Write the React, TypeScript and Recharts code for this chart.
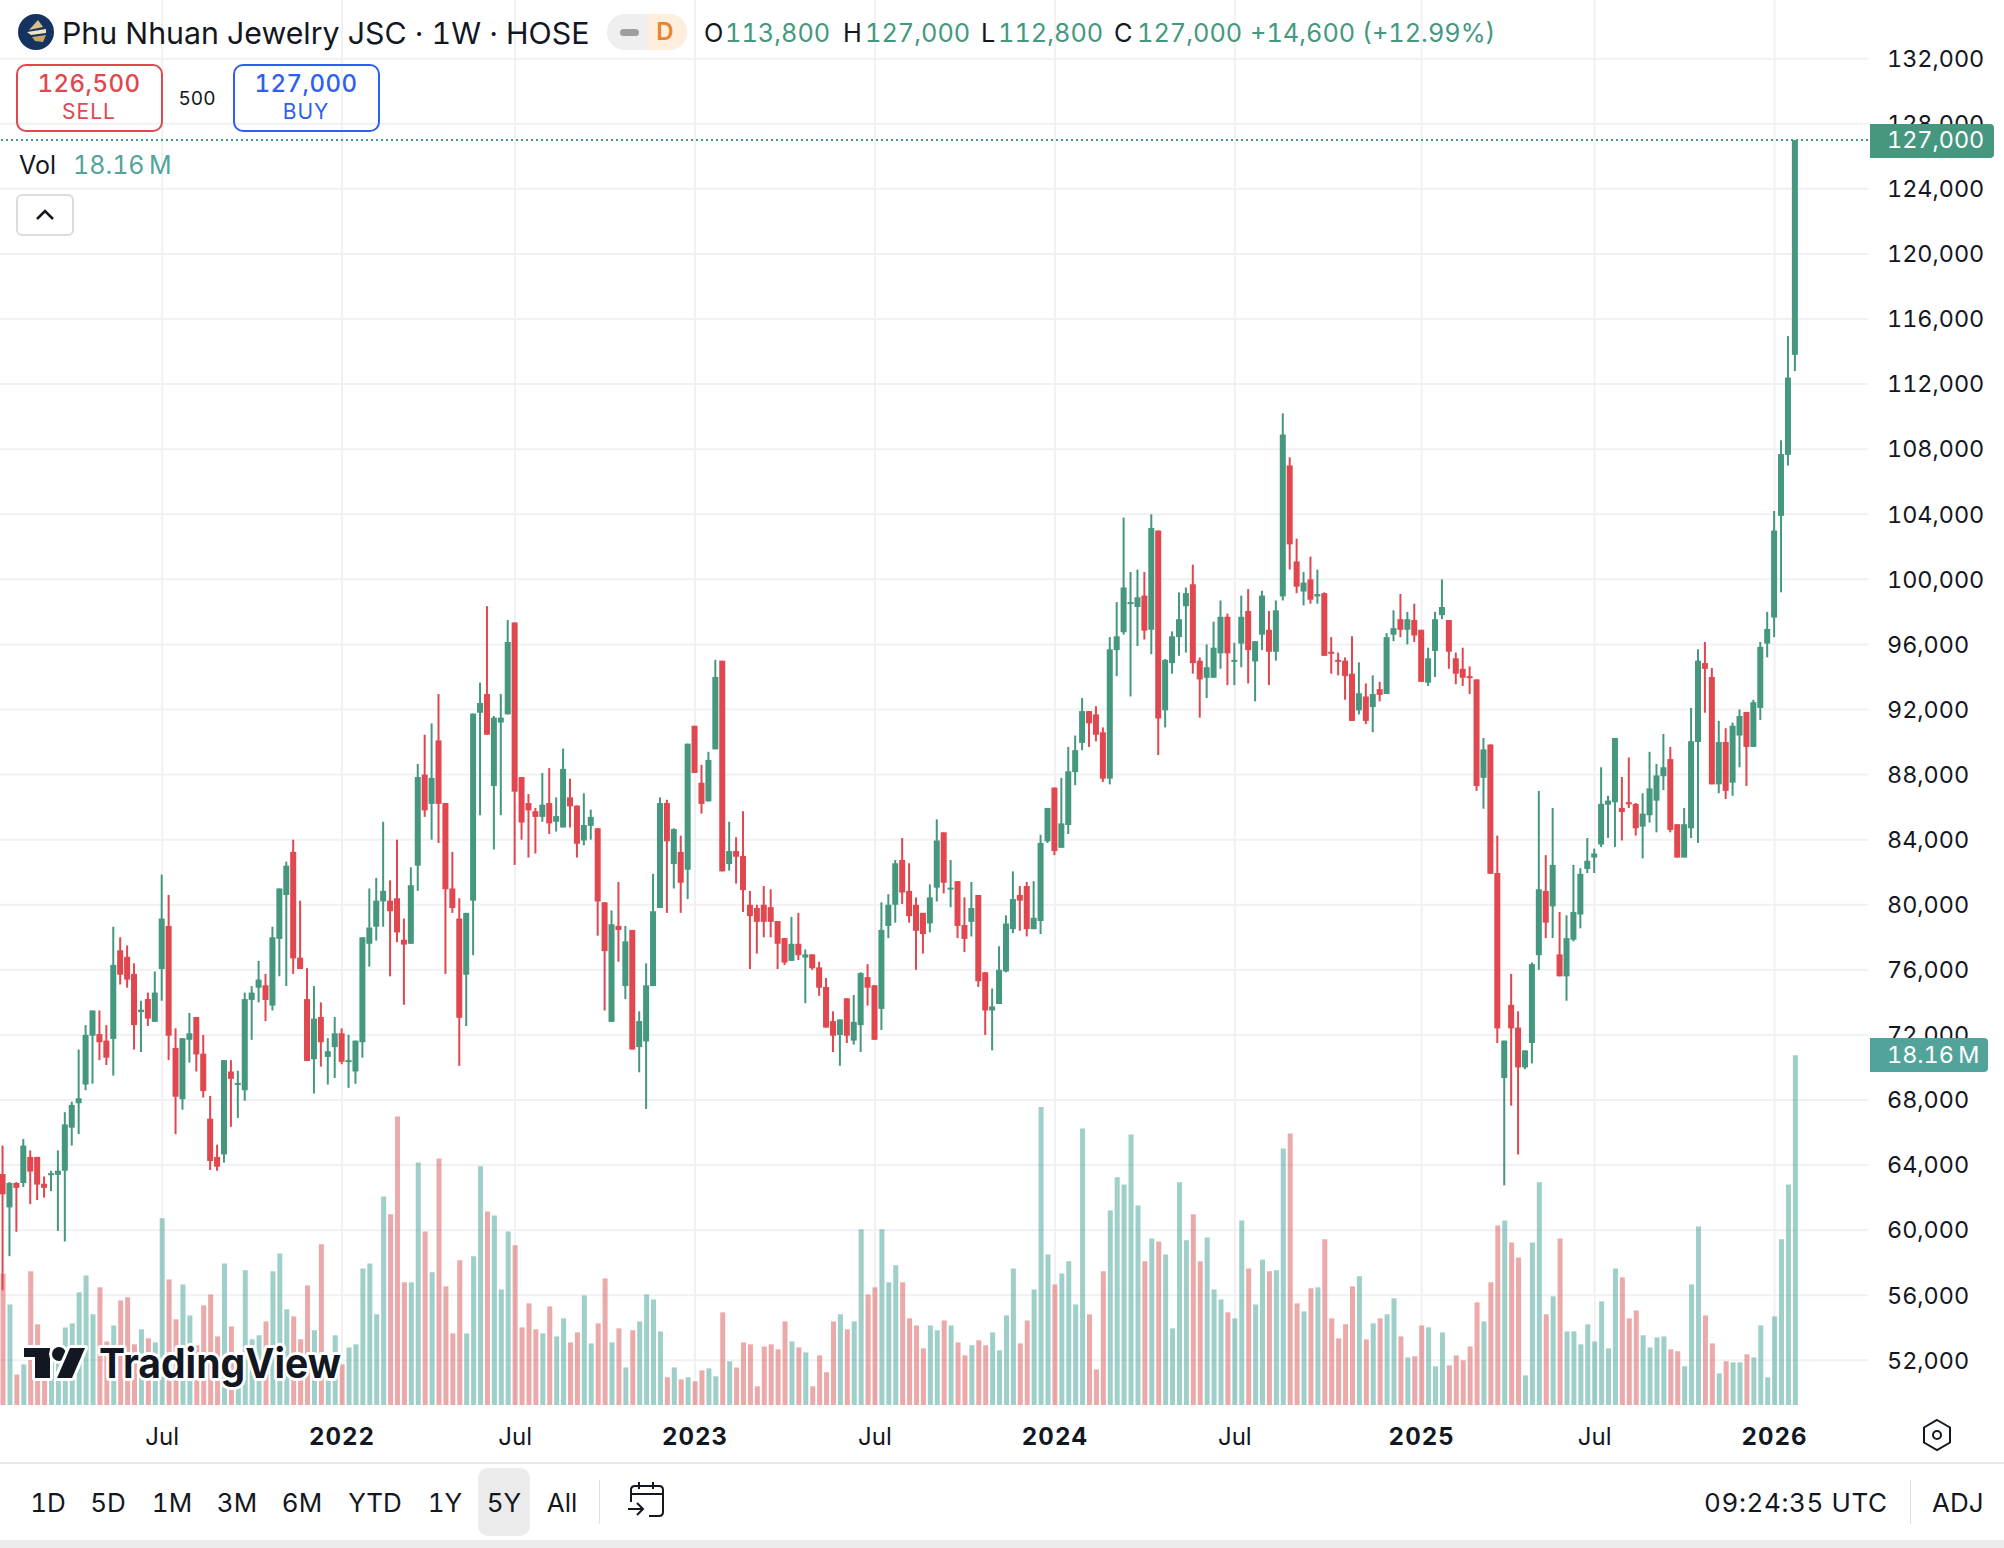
import React from 'react';
import { ComposedChart, Bar, Cell, XAxis, YAxis, CartesianGrid, ReferenceLine } from 'recharts';

const opens = [
  63450, 61400, 62900, 62900, 64500, 64500, 62850, 63400, 63400, 63650,
  66300, 67800, 68950, 71950, 72050, 71650, 71750, 77200, 76800, 75750,
  73400, 74200, 72800, 76050, 78700, 71200, 68050, 71700, 73100, 70850,
  66850, 64500, 64650, 69750, 68950, 68600, 74150, 74900, 75050, 73800,
  77900, 80600, 83250, 76750, 74200, 70500, 73100, 70650, 71250, 72100,
  70350, 69750, 71550, 77600, 78650, 80200, 80250, 80400, 77850, 77600,
  82400, 88000, 86200, 90100, 86250, 81000, 79150, 75700, 80250, 91800,
  92950, 87300, 91200, 91700, 97350, 87850, 86250, 85750, 85400, 86250,
  85100, 84750, 86600, 86100, 83950, 84850, 84700, 80150, 72800, 78700,
  75000, 78450, 71250, 71600, 75000, 79800, 86250, 82500, 83250, 82150,
  91000, 87500, 86350, 89550, 95000, 82500, 83300, 83000, 80000, 79800,
  80000, 79850, 79000, 77950, 76550, 77600, 76750, 76950, 76150, 74950,
  72850, 72000, 74250, 71650, 72600, 75550, 75050, 73600, 78700, 80000,
  82750, 80850, 80000, 79500, 78850, 81050, 84450, 80950, 81450, 78750,
  78950, 80600, 75850, 73500, 73900, 75900, 78500, 80600, 81150, 78500,
  79000, 83900, 87200, 83500, 84900, 88150, 89950, 91900, 91700, 90600,
  87750, 95650, 96750, 98500, 98300, 99000, 96900, 103000, 91950, 94850,
  96450, 98350, 99700, 95000, 93950, 93950, 95450, 97700, 94950, 96050,
  98050, 94950, 96600, 96900, 95550, 98950, 107000, 101100, 99250, 100000,
  98950, 99150, 95550, 95050, 95000, 94200, 91950, 92800, 92150, 93250,
  92950, 96600, 97550, 96900, 97500, 96900, 93650, 95600, 97800, 97500,
  95150, 94500, 94050, 93850, 87800, 89850, 81950, 69350, 73850, 72450,
  70000, 71500, 76900, 80850, 79900, 76950, 75600, 77850, 79400, 82200,
  82900, 83700, 86150, 86300, 85950, 86300, 86200, 84800, 85500, 86400,
  87900, 88950, 84950, 82900, 84700, 90000, 94850, 94000, 87400, 90000,
  87500, 90400, 91850, 89700, 92100, 96050, 97650, 103900, 107650, 113800,
];

const closes = [
  62200, 62900, 62600, 65200, 63600, 62800, 62600, 63500, 63650, 66500,
  67700, 68100, 72000, 73500, 71550, 70600, 76300, 75700, 75400, 72600,
  73550, 73000, 74600, 79150, 71950, 68200, 71800, 72100, 70800, 68550,
  64250, 63900, 70450, 69300, 69050, 74200, 74600, 75400, 74150, 78000,
  81000, 82400, 76700, 76050, 70400, 73000, 71550, 71000, 72100, 70350,
  70450, 71650, 78000, 78600, 80250, 80850, 79600, 78300, 77550, 81200,
  87850, 85800, 87800, 86200, 80950, 79800, 73050, 79500, 91750, 92400,
  90450, 91500, 91500, 96150, 86950, 85050, 85800, 85400, 86150, 85000,
  85450, 88350, 86050, 83750, 84900, 85400, 80200, 77150, 78800, 78450,
  77750, 71100, 72850, 75050, 79600, 86250, 83900, 84650, 81350, 89900,
  88100, 86200, 88900, 94000, 82050, 83300, 82950, 80900, 79300, 78950,
  78950, 78950, 77600, 76450, 77600, 76900, 76950, 76100, 74900, 72450,
  71950, 72950, 71950, 72800, 75800, 74900, 71700, 78450, 80000, 82550,
  80750, 79300, 78400, 78200, 80450, 83950, 81350, 81050, 78700, 77900,
  79800, 75300, 73500, 73750, 76000, 78850, 80350, 80250, 78500, 79200,
  83800, 85950, 83300, 85000, 88200, 89500, 91900, 91150, 90450, 87750,
  95700, 96500, 99500, 98600, 98900, 96850, 103150, 91450, 95050, 96500,
  97550, 99150, 94850, 93850, 94600, 95800, 97700, 95450, 95050, 97700,
  95650, 96200, 99000, 95550, 98100, 108900, 102150, 99550, 99800, 98750,
  99100, 95300, 95450, 94950, 94050, 91300, 93000, 91300, 92950, 92900,
  96450, 97000, 96900, 97550, 96550, 93700, 95150, 97550, 98300, 95550,
  94200, 93950, 93950, 87300, 89550, 81900, 72400, 71650, 72400, 70000,
  71050, 76350, 80950, 78900, 82450, 75600, 77950, 79550, 81900, 82700,
  83150, 86200, 86400, 90250, 85700, 86200, 84700, 85600, 87150, 87950,
  88450, 84600, 82900, 84950, 90050, 95000, 94500, 87400, 90000, 87000,
  91000, 91600, 89700, 92450, 95850, 96950, 103000, 107700, 112400, 127000,
];

const highs = [
  65200, 62950, 62950, 65600, 64900, 64500, 63300, 63650, 64900, 67250,
  67900, 71100, 72600, 73500, 73500, 72600, 78650, 78000, 77500, 76400,
  74100, 74600, 75900, 81850, 80600, 72400, 71800, 73350, 73100, 72000,
  68250, 65250, 70450, 70450, 69800, 74600, 75000, 76550, 75750, 78650,
  81000, 82650, 84000, 80250, 76100, 75000, 74000, 71800, 73100, 72400,
  72000, 71650, 78000, 81000, 81650, 85100, 81500, 84000, 79150, 82300,
  88650, 90450, 91150, 92950, 86250, 83250, 80400, 79500, 91750, 93650,
  98350, 91600, 92950, 97500, 97350, 87850, 86800, 85950, 88100, 88400,
  86600, 89600, 87750, 86100, 86850, 85850, 84700, 80150, 79650, 81400,
  78700, 78450, 73450, 76400, 81900, 86600, 86450, 84700, 84250, 89900,
  91000, 88600, 89400, 95050, 95000, 85100, 84150, 85750, 80850, 80000,
  81150, 80950, 79000, 77950, 79250, 79500, 77250, 76950, 76500, 75500,
  73450, 72950, 74250, 74450, 75850, 76350, 75050, 80150, 80650, 82750,
  84100, 82550, 80450, 79500, 81250, 85250, 84450, 82750, 81450, 80450,
  81400, 80600, 75850, 74850, 77450, 79350, 82050, 81150, 81400, 81450,
  84300, 85950, 87200, 87800, 89700, 90400, 92700, 91900, 92200, 90900,
  96450, 98600, 103800, 100450, 100600, 100450, 104000, 103000, 95100, 96800,
  99200, 99500, 100900, 95200, 96000, 97400, 98700, 97900, 96100, 99000,
  99400, 96200, 99300, 98050, 98700, 110200, 107500, 102500, 100450, 101400,
  100600, 99200, 96450, 95500, 95200, 96500, 94900, 93600, 94100, 93700,
  96700, 98100, 99100, 98000, 98500, 96900, 95800, 98000, 100000, 97500,
  95500, 95800, 94650, 93850, 90250, 89850, 84250, 71650, 75750, 73450,
  71050, 76450, 87000, 83050, 85950, 79550, 79350, 82450, 82250, 84100,
  83450, 88450, 86700, 90250, 87850, 89050, 86250, 86850, 89400, 88650,
  90500, 89700, 84950, 85950, 92100, 95700, 96150, 94550, 91300, 90850,
  91200, 92000, 91850, 92600, 96150, 98000, 104200, 108550, 114950, 127000,
];

const lows = [
  56300, 58400, 59900, 62650, 61600, 61850, 62000, 62400, 59950, 59300,
  65200, 65900, 68600, 69000, 70450, 70150, 69500, 75100, 74900, 71100,
  70950, 72550, 72800, 74100, 70450, 65900, 67400, 70300, 69750, 68150,
  63700, 63650, 64150, 66350, 66900, 67950, 71700, 74000, 72850, 73500,
  75600, 75000, 75750, 76050, 70400, 68400, 70050, 68950, 69350, 70200,
  68750, 69000, 70600, 76200, 77800, 78650, 75600, 77700, 73850, 77600,
  80850, 85400, 84000, 83800, 75750, 79500, 70100, 72550, 76900, 85500,
  90450, 83400, 85500, 91700, 82450, 84000, 82900, 83150, 85100, 84350,
  84500, 84750, 84750, 82900, 83650, 84000, 78100, 73500, 72800, 76500,
  74200, 71100, 69700, 67450, 75000, 79800, 79500, 81000, 79500, 80350,
  88100, 85600, 86350, 89550, 82050, 82100, 81300, 79550, 76050, 77000,
  78000, 78000, 76050, 76300, 76550, 76600, 73950, 76000, 74400, 72450,
  70950, 70100, 71500, 71400, 70950, 73800, 71700, 72300, 77950, 78900,
  80050, 78900, 76000, 77000, 78300, 80200, 80700, 79850, 77950, 77100,
  78050, 74950, 72000, 71050, 73900, 75850, 78250, 78400, 78050, 78500,
  78200, 83800, 83050, 83500, 84350, 87350, 89500, 89700, 90050, 87550,
  87400, 94050, 96600, 92800, 95900, 96300, 95400, 89200, 90900, 94200,
  95300, 95500, 94200, 91500, 92700, 93950, 94500, 93500, 93500, 94600,
  93600, 92500, 95650, 93500, 95000, 98700, 100600, 99150, 98400, 98500,
  98500, 95300, 94200, 94100, 92600, 91300, 91700, 91100, 90600, 92500,
  92950, 96200, 96450, 96000, 96150, 93700, 93450, 94000, 97550, 94500,
  93550, 93450, 92950, 87000, 85900, 81900, 71500, 62750, 67650, 64650,
  69900, 70250, 76000, 77950, 77950, 75600, 74100, 77750, 78550, 81950,
  81950, 83550, 84100, 83550, 83950, 85950, 84250, 82850, 85050, 84450,
  87050, 84450, 82900, 82900, 84100, 83800, 91800, 87400, 86850, 86500,
  86700, 88450, 87300, 89700, 91350, 95200, 96450, 99200, 107000, 112800,
];

// volume in millions
const volumes = [
  6.82, 5.22, 1.59, 2.11, 6.94, 4.19, 2.84, 2.49, 2.84, 4.03,
  4.24, 5.85, 6.73, 4.71, 6.11, 3.3, 4.13, 5.43, 5.59, 3.15,
  3.93, 3.46, 3.25, 9.69, 6.52, 4.45, 6.26, 4.65, 3.1, 5.17,
  5.74, 3.56, 7.35, 4.08, 1.97, 6.99, 3.41, 3.62, 4.34, 6.94,
  7.87, 4.97, 4.6, 3.41, 6.21, 3.88, 8.34, 1.97, 3.62, 2.11,
  2.99, 3.15, 7.09, 7.35, 4.71, 10.83, 9.9, 14.98, 6.37, 6.37,
  12.59, 9.01, 6.89, 12.8, 6.16, 3.72, 7.51, 3.72, 7.72, 12.39,
  10.05, 9.84, 6.0, 9.01, 8.29, 4.03, 5.28, 3.93, 3.72, 5.12,
  3.56, 4.5, 3.25, 3.77, 5.69, 3.2, 4.24, 6.57, 3.25, 3.98,
  1.95, 3.88, 4.34, 5.74, 5.48, 3.82, 1.44, 1.95, 1.33, 1.44,
  1.23, 1.8, 1.9, 1.49, 4.81, 2.27, 1.95, 3.25, 3.15, 0.97,
  3.04, 3.15, 2.89, 4.34, 3.3, 2.99, 2.73, 0.97, 2.58, 1.7,
  4.34, 4.71, 3.93, 4.34, 9.12, 5.74, 6.11, 9.12, 6.37, 7.25,
  6.37, 4.5, 4.13, 2.94, 4.13, 3.88, 4.39, 4.13, 3.25, 2.58,
  3.1, 3.36, 3.1, 3.77, 2.84, 4.65, 7.09, 3.2, 4.39, 6.0,
  15.47, 7.82, 6.26, 6.83, 7.46, 5.22, 14.36, 4.71, 1.85, 6.94,
  10.1, 11.82, 11.45, 14.05, 10.36, 7.46, 8.65, 8.49, 7.82, 3.98,
  11.56, 8.55, 9.9, 7.46, 8.7, 6.0, 5.48, 4.81, 4.5, 9.58,
  7.09, 5.22, 7.56, 6.94, 6.99, 13.32, 14.1, 5.28, 4.86, 6.06,
  6.11, 8.6, 4.5, 3.46, 4.19, 6.16, 6.68, 3.41, 4.24, 4.5,
  4.71, 5.54, 3.56, 2.47, 2.53, 4.13, 4.03, 2.01, 3.77, 2.06,
  2.58, 2.32, 3.04, 5.33, 4.34, 6.37, 9.32, 9.58, 8.44, 7.66,
  1.54, 8.44, 11.56, 4.71, 5.64, 8.65, 3.82, 3.82, 3.15, 4.19,
  3.3, 5.38, 2.94, 7.09, 6.63, 4.5, 4.91, 3.62, 2.99, 3.51,
  3.56, 2.89, 2.79, 2.01, 6.26, 9.27, 4.65, 3.2, 1.64, 2.27,
  2.21, 2.21, 2.63, 2.47, 4.13, 1.44, 4.6, 8.6, 11.45, 18.16,
];

const priceTicks = [
  132000, 128000, 124000, 120000, 116000, 112000, 108000, 104000, 100000, 96000, 92000,
  88000, 84000, 80000, 76000, 72000, 68000, 64000, 60000, 56000, 52000,
];
const timeTicks = [23, 49, 74, 100, 126, 152, 178, 205, 230, 256];
const timeLabels = ['Jul', '2022', 'Jul', '2023', 'Jul', '2024', 'Jul', '2025', 'Jul', '2026'];
const ranges = ['1D', '5D', '1M', '3M', '6M', 'YTD', '1Y', '5Y', 'All'];
const rangeCenters = [48, 108, 172, 237, 302, 375, 445, 504, 562];

const UP = '#45987f';
const DOWN = '#e0474f';
const TEXT = '#131722';
const FONT = 'Inter, "Noto Sans", sans-serif';

const rows = opens.map((open, i) => ({
  i,
  open,
  close: closes[i],
  high: highs[i],
  low: lows[i],
  volume: volumes[i],
}));

function Candle(props: any) {
  const { x, y, width, height, payload } = props;
  const k = height / (payload.high - payload.low || 1);
  const up = payload.close >= payload.open;
  const color = up ? UP : DOWN;
  const top = y + (payload.high - Math.max(payload.open, payload.close)) * k;
  const h = Math.max(2, Math.abs(payload.close - payload.open) * k);
  return (
    <g>
      <rect x={x + width / 2 - 1} y={y} width={2} height={height} fill={color} />
      <rect x={x} y={top} width={width} height={h} fill={color} />
    </g>
  );
}

function TimeTick(props: any) {
  const { x, y, payload } = props;
  const label = timeLabels[timeTicks.indexOf(payload.value)];
  const bold = label !== 'Jul';
  return (
    <text
      x={x}
      y={y}
      dy={32}
      textAnchor="middle"
      fontSize={24}
      fontWeight={bold ? 700 : 400}
      letterSpacing={bold ? 1 : 0}
      fill={TEXT}
      fontFamily={FONT}
    >
      {label}
    </text>
  );
}

function T(props: any) {
  const { x, cy, size = 26, color = TEXT, weight = 400, center, spacing, children } = props;
  return (
    <div
      style={{
        position: 'absolute',
        left: x,
        top: cy - size,
        height: size * 2,
        lineHeight: `${size * 2}px`,
        fontSize: size,
        fontWeight: weight,
        letterSpacing: spacing,
        color,
        whiteSpace: 'nowrap',
        transform: center ? 'translateX(-50%)' : undefined,
      }}
    >
      {children}
    </div>
  );
}

function Box(props: any) {
  const { x, y, w, h, style } = props;
  return <div style={{ position: 'absolute', left: x, top: y, width: w, height: h, boxSizing: 'border-box', ...style }} />;
}

export default function App() {
  return (
    <div
      style={{
        position: 'absolute',
        left: 0,
        top: 0,
        width: 2004,
        height: 1548,
        background: '#fff',
        overflow: 'hidden',
        fontFamily: FONT,
        fontVariantNumeric: 'tabular-nums',
      }}
    >
      <div style={{ position: 'absolute', left: 0, top: 0 }}>
        <ComposedChart width={2004} height={1463} data={rows} margin={{ top: 0, right: 0, bottom: 0, left: 0 }}>
          <CartesianGrid xAxisId="main" yAxisId="price" stroke="#f1f1f3" strokeWidth={2} syncWithTicks />
          <XAxis
            xAxisId="main"
            dataKey="i"
            type="number"
            domain={[-0.434, 269.5]}
            ticks={timeTicks}
            interval={0}
            height={58}
            axisLine={false}
            tickLine={false}
            tick={<TimeTick />}
          />
          <XAxis xAxisId="vol" dataKey="i" type="number" domain={[-0.434, 269.5]} hide />
          <YAxis
            yAxisId="price"
            orientation="right"
            type="number"
            domain={[49253, 135608]}
            ticks={priceTicks}
            interval={0}
            width={136}
            axisLine={false}
            tickLine={false}
            tickSize={0}
            tickMargin={19}
            tick={{ fontSize: 23.4, fill: TEXT, fontFamily: FONT }}
            tickFormatter={(v: number) => v.toLocaleString('en-US')}
          />
          <YAxis yAxisId="volume" type="number" domain={[0, 72.95]} hide />
          <Bar xAxisId="vol" yAxisId="volume" dataKey="volume" barSize={5} isAnimationActive={false}>
            {rows.map((r) => (
              <Cell key={r.i} fill={r.close >= r.open ? 'rgba(62,160,148,0.5)' : 'rgba(215,83,83,0.5)'} />
            ))}
          </Bar>
          <ReferenceLine xAxisId="main" yAxisId="price" y={127000} stroke={UP} strokeWidth={2} strokeDasharray="2 3" />
          <Bar
            xAxisId="main"
            yAxisId="price"
            dataKey={(d: any) => [d.low, d.high]}
            barSize={6}
            isAnimationActive={false}
            shape={<Candle />}
          />
        </ComposedChart>
      </div>

      {/* last value tags */}
      <Box x={1870} y={124} w={124} h={34} style={{ background: UP, borderRadius: '0 4px 4px 0' }} />
      <T x={1887} cy={140} size={23.4} color="#fff">127,000</T>
      <Box x={1870} y={1038} w={118} h={34} style={{ background: '#52a49a', borderRadius: '0 4px 4px 0' }} />
      <T x={1887} cy={1055} size={23.4} color="#fff">18.16{'\u2009'}M</T>

      {/* header */}
      <svg style={{ position: 'absolute', left: 18, top: 14 }} width={36} height={36}>
        <circle cx={18} cy={18} r={18} fill="#15335f" />
        <path d="M20 6 L25 13 L11 16 Z" fill="#d9c08a" />
        <path d="M9 18 L28 15 L28 19 L13 21 Z" fill="#f0e3c4" />
        <path d="M14 23 L28 21 L25 28 L17 27 Z" fill="#c7a764" />
      </svg>
      <T x={62} cy={33} size={30.3}>Phu Nhuan Jewelry JSC · 1W · HOSE</T>
      <Box x={607} y={14} w={80} h={36} style={{ background: '#efefef', borderRadius: 18 }} />
      <Box x={647} y={14} w={40} h={36} style={{ background: '#fdeedd', borderRadius: '0 18px 18px 0' }} />
      <Box x={620} y={29} w={19} h={7} style={{ background: '#9e9e9e', borderRadius: 4 }} />
      <T x={665} cy={32} size={24} color="#e8852c" weight={600} center>D</T>

      <T x={704} cy={33} size={25.3}>O</T>
      <T x={725} cy={33} size={25.3} color={UP}>113,800</T>
      <T x={843} cy={33} size={25.3}>H</T>
      <T x={865} cy={33} size={25.3} color={UP}>127,000</T>
      <T x={981} cy={33} size={25.3}>L</T>
      <T x={998} cy={33} size={25.3} color={UP}>112,800</T>
      <T x={1114} cy={33} size={25.3}>C</T>
      <T x={1137} cy={33} size={25.3} color={UP}>127,000</T>
      <T x={1250} cy={33} size={25.3} color={UP}>+14,600 (+12.99%)</T>

      {/* sell / buy */}
      <Box x={16} y={64} w={147} h={68} style={{ border: `2px solid ${DOWN}`, borderRadius: 10 }} />
      <T x={89} cy={84} size={24} color={DOWN} weight={500} spacing={0.5} center>126,500</T>
      <T x={89} cy={112} size={21} color={DOWN} spacing={1} center>SELL</T>
      <T x={197} cy={99} size={19} center>500</T>
      <Box x={233} y={64} w={147} h={68} style={{ border: '2px solid #2f5ff0', borderRadius: 10 }} />
      <T x={306} cy={84} size={24} color="#2f5ff0" weight={500} spacing={0.5} center>127,000</T>
      <T x={306} cy={112} size={21} color="#2f5ff0" spacing={1} center>BUY</T>

      <T x={19} cy={165} size={25}>Vol</T>
      <T x={73} cy={165} size={25} color="#52a49a">18.16{'\u2009'}M</T>
      <Box x={16} y={194} w={58} h={42} style={{ border: '2px solid #dcdcdc', borderRadius: 6, background: '#fff' }} />
      <svg style={{ position: 'absolute', left: 35, top: 208 }} width={20} height={14}>
        <path d="M2 11 L10 3 L18 11" fill="none" stroke={TEXT} strokeWidth={2.5} />
      </svg>

      {/* watermark */}
      <svg style={{ position: 'absolute', left: 0, top: 1330 }} width={360} height={70}>
        <g transform="translate(0,-1330)" stroke="#fff" strokeWidth={6} strokeLinejoin="round" paintOrder="stroke">
          <path d="M24 1348 H50 V1378 H35 V1357 H24 Z" fill="#131722" />
          <circle cx={59} cy={1354} r={7} fill="#131722" />
          <path d="M70 1348 H85 L72 1378 H57 Z" fill="#131722" />
          <text x={99} y={1378} fontSize={41} fontWeight={700} fill="#131722" fontFamily={FONT} textLength={242} lengthAdjust="spacingAndGlyphs">
            TradingView
          </text>
        </g>
      </svg>

      {/* settings hexagon */}
      <svg style={{ position: 'absolute', left: 1920, top: 1418 }} width={34} height={34}>
        <path d="M17 2 L30 9.5 V24.5 L17 32 L4 24.5 V9.5 Z" fill="none" stroke={TEXT} strokeWidth={2} />
        <circle cx={17} cy={17} r={4} fill="none" stroke={TEXT} strokeWidth={2} />
      </svg>

      {/* bottom toolbar */}
      <Box x={0} y={1462} w={2004} h={2} style={{ background: '#e9e9ea' }} />
      <Box x={478} y={1468} w={52} h={68} style={{ background: '#ebebeb', borderRadius: 10 }} />
      {ranges.map((r, i) => (
        <T key={r} x={rangeCenters[i]} cy={1503} size={26} center>{r}</T>
      ))}
      <Box x={599} y={1480} w={1} h={44} style={{ background: '#e0e0e0' }} />
      <svg style={{ position: 'absolute', left: 625, top: 1480 }} width={42} height={42}>
        <path d="M6 22 V10 Q6 6 10 6 H34 Q38 6 38 10 V32 Q38 36 34 36 H24 M6 14 H38 M14 2 V9 M28 2 V9" fill="none" stroke={TEXT} strokeWidth={2} />
        <path d="M3 29 H17 M12 23 L18 29 L12 35" fill="none" stroke={TEXT} strokeWidth={2} />
      </svg>
      <T x={1704} cy={1503} size={26} spacing={0.6}>09:24:35 UTC</T>
      <Box x={1910} y={1480} w={1} h={44} style={{ background: '#e0e0e0' }} />
      <T x={1932} cy={1503} size={26}>ADJ</T>
      <Box x={0} y={1540} w={2004} h={8} style={{ background: '#ebebeb' }} />
    </div>
  );
}
